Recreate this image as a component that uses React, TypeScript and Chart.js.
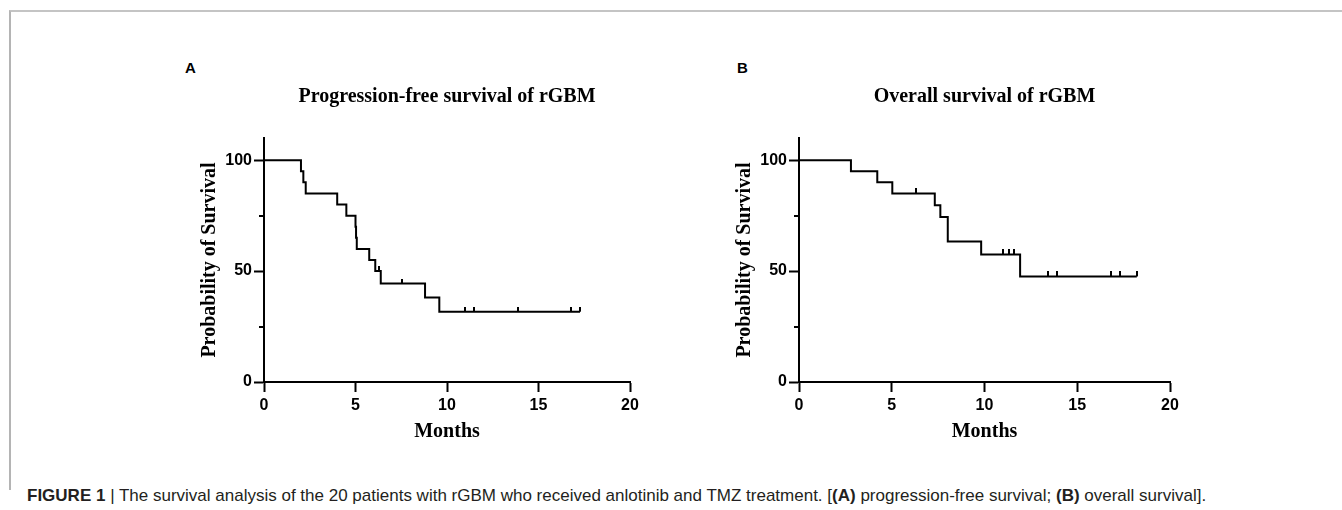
import React, { useEffect, useRef } from "react";
import { Chart, registerables } from "chart.js";

Chart.register(...registerables);

// ---------- data ----------
const monthTicks = [0, 5, 10, 15, 20];
const survivalTicks = [0, 25, 50, 75, 100];
const labeledSurvivalTicks = [0, 50, 100];

const pfsTitle = "Progression-free survival of rGBM";
const pfsEventMonths = [0, 2.02, 2.15, 2.28, 4.0, 4.5, 5.0, 5.03, 5.07, 5.75, 6.08, 6.38, 8.8, 9.58, 17.27];
const pfsSurvival = [100, 95, 90, 85, 80, 75, 70, 65, 60, 55, 50, 44.4, 38.1, 31.7, 31.7];
const pfsCensorMonths = [6.28, 7.56, 10.98, 11.46, 13.88, 16.78, 17.27];
const pfsCensorSurvival = [50, 44.4, 31.7, 31.7, 31.7, 31.7, 31.7];

const osTitle = "Overall survival of rGBM";
const osEventMonths = [0, 2.8, 4.22, 5.03, 7.32, 7.62, 8.02, 9.82, 11.92, 18.21];
const osSurvival = [100, 95, 90, 85, 79.7, 74.4, 63.3, 57.5, 47.6, 47.6];
const osCensorMonths = [6.31, 11.0, 11.31, 11.58, 13.41, 13.9, 16.81, 17.31, 18.21];
const osCensorSurvival = [85, 57.5, 57.5, 57.5, 47.6, 47.6, 47.6, 47.6, 47.6];

const xAxisTitle = "Months";
const yAxisTitle = "Probability of Survival";

// ---------- styles ----------
const SERIF = "'Liberation Serif', 'Times New Roman', serif";
const SANS = "'Liberation Sans', Arial, sans-serif";

function makeCensorMark(): HTMLCanvasElement {
  const c = document.createElement("canvas");
  c.width = 2;
  c.height = 10;
  const g = c.getContext("2d")!;
  g.fillStyle = "#000";
  g.fillRect(0, 0, 2, 5);
  return c;
}

const minorTickPlugin = {
  id: "minorTicks",
  afterDraw(chart: any) {
    const y = chart.scales.y;
    const left = chart.chartArea.left;
    const ctx = chart.ctx;
    ctx.save();
    ctx.strokeStyle = "#000";
    ctx.lineWidth = 2;
    survivalTicks
      .filter((v) => !labeledSurvivalTicks.includes(v))
      .forEach((v) => {
        const py = Math.round(y.getPixelForValue(v));
        ctx.beginPath();
        ctx.moveTo(left - 5, py);
        ctx.lineTo(left, py);
        ctx.stroke();
      });
    ctx.restore();
  },
};

function buildConfig(title: string, months: number[], surv: number[], cMonths: number[], cSurv: number[]): any {
  const mark = makeCensorMark();
  const tickFont = { family: SANS, size: 16, weight: "bold" as const };
  const titleFont = { family: SERIF, size: 20, weight: "bold" as const };
  return {
    type: "line",
    data: {
      datasets: [
        {
          data: months.map((m, i) => ({ x: m, y: surv[i] })),
          stepped: true,
          borderColor: "#000",
          borderWidth: 2,
          pointRadius: 0,
          fill: false,
        },
        {
          data: cMonths.map((m, i) => ({ x: m, y: cSurv[i] })),
          showLine: false,
          pointStyle: mark,
          pointRadius: 5,
          borderColor: "#000",
          backgroundColor: "#000",
        },
      ],
    },
    options: {
      responsive: false,
      animation: false,
      events: [],
      layout: { padding: { left: 0, right: 20, top: 0, bottom: 0 } },
      plugins: {
        legend: { display: false },
        tooltip: { enabled: false },
        title: {
          display: true,
          text: title,
          fullSize: false,
          color: "#000",
          font: titleFont,
          padding: { top: 35, bottom: 29 },
        },
      },
      scales: {
        x: {
          type: "linear",
          min: 0,
          max: 20,
          afterBuildTicks: (s: any) => {
            s.ticks = monthTicks.map((v) => ({ value: v }));
          },
          afterFit: (s: any) => {
            s.height = 68;
          },
          border: { display: true, color: "#000", width: 2 },
          grid: { drawOnChartArea: false, drawTicks: true, tickLength: 10, tickWidth: 2, tickColor: "#000" },
          ticks: { color: "#000", font: tickFont, padding: 4, maxRotation: 0, autoSkip: false },
          title: { display: true, text: xAxisTitle, color: "#000", font: titleFont, padding: { top: 0, bottom: 6 } },
        },
        y: {
          type: "linear",
          min: 0,
          max: 110,
          afterBuildTicks: (s: any) => {
            s.ticks = labeledSurvivalTicks.map((v) => ({ value: v }));
          },
          afterFit: (s: any) => {
            s.width = 114;
          },
          border: { display: true, color: "#000", width: 2 },
          grid: { drawOnChartArea: false, drawTicks: true, tickLength: 10, tickWidth: 2, tickColor: "#000" },
          ticks: { color: "#000", font: tickFont, padding: 2, autoSkip: false },
          title: { display: true, text: yAxisTitle, color: "#000", font: titleFont, padding: { top: 48, bottom: 0 } },
        },
      },
    },
    plugins: [minorTickPlugin],
  };
}

function SurvivalChart(props: { left: number; top: number; width: number; height: number; title: string; months: number[]; surv: number[]; cMonths: number[]; cSurv: number[] }) {
  const ref = useRef<HTMLCanvasElement | null>(null);
  useEffect(() => {
    if (!ref.current) return;
    const chart = new Chart(ref.current, buildConfig(props.title, props.months, props.surv, props.cMonths, props.cSurv));
    return () => chart.destroy();
  }, []);
  return (
    <canvas
      ref={ref}
      width={props.width}
      height={props.height}
      style={{ position: "absolute", left: props.left, top: props.top, width: props.width, height: props.height }}
    />
  );
}

export default function App() {
  return (
    <div style={{ position: "absolute", left: 0, top: 0, width: 1342, height: 510, background: "#fff", overflow: "hidden" }}>
      <div style={{ position: "absolute", left: 9, top: 10, width: 1333, height: 478, borderTop: "2px solid #c4c4c4", borderLeft: "2px solid #b4b4b4" }} />
      <div style={{ position: "absolute", left: 185, top: 59, font: `bold 15px ${SANS}`, color: "#000" }}>A</div>
      <div style={{ position: "absolute", left: 737, top: 59, font: `bold 15px ${SANS}`, color: "#000" }}>B</div>
      <SurvivalChart left={150} top={50} width={500} height={400} title={pfsTitle} months={pfsEventMonths} surv={pfsSurvival} cMonths={pfsCensorMonths} cSurv={pfsCensorSurvival} />
      <SurvivalChart left={685} top={50} width={505} height={400} title={osTitle} months={osEventMonths} surv={osSurvival} cMonths={osCensorMonths} cSurv={osCensorSurvival} />
      <div style={{ position: "absolute", left: 27, top: 486, whiteSpace: "nowrap", font: `17px ${SANS}`, color: "#231f20" }}>
        <b>FIGURE 1</b> | The survival analysis of the 20 patients with rGBM who received anlotinib and TMZ treatment. [<b>(A)</b> progression-free survival; <b>(B)</b> overall survival].
      </div>
    </div>
  );
}
